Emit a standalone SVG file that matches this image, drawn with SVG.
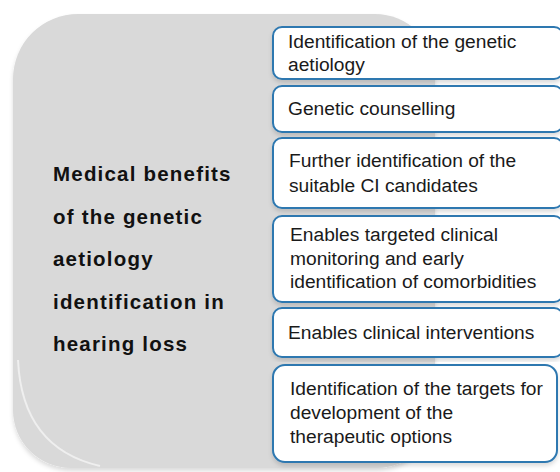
<svg xmlns="http://www.w3.org/2000/svg" width="560" height="472" viewBox="0 0 560 472">
  <style>
    .item rect { fill: #ffffff; stroke: #2e78b0; stroke-width: 2; }
    .item text { font-family: "Liberation Sans", Arial, sans-serif; font-size: 19.2px; fill: #1a1a1a; }
    .title text { font-family: "Liberation Sans", Arial, sans-serif; font-size: 20.5px; font-weight: bold; letter-spacing: 1.2px; fill: #111111; }
  </style>
  <defs>
    <filter id="soft" x="-5%" y="-5%" width="110%" height="115%">
      <feGaussianBlur in="SourceAlpha" stdDeviation="2"/>
      <feOffset dx="0" dy="3" result="b"/>
      <feFlood flood-color="#000000" flood-opacity="0.14"/>
      <feComposite in2="b" operator="in"/>
      <feMerge><feMergeNode/><feMergeNode in="SourceGraphic"/></feMerge>
    </filter>
  </defs>
  <rect width="560" height="472" fill="#ffffff"/>

  <!-- grey panel holding the heading -->
  <g id="panel" class="title">
    <path d="M78 14 H375 A60 60 0 0 1 435 74 V410 A58 58 0 0 1 377 468 H71 A58 58 0 0 1 13 410 V79 A65 65 0 0 1 78 14 Z" fill="#d9d9d9" filter="url(#soft)"/>
    <path d="M18 360 Q22 448 100 466" fill="none" stroke="#f4f4f4" stroke-width="2" opacity="0.8"/>
    <text x="53" y="181">Medical benefits</text>
    <text x="53" y="223.5">of the genetic</text>
    <text x="53" y="266">aetiology</text>
    <text x="53" y="308.5">identification in</text>
    <text x="53" y="351">hearing loss</text>
  </g>

  <!-- benefit boxes -->
  <g id="b1" class="item">
    <rect x="273" y="27" width="290" height="52" rx="9" filter="url(#soft)"/>
    <text x="288" y="48">Identification of the genetic</text>
    <text x="288" y="71">aetiology</text>
  </g>
  <g id="b2" class="item">
    <rect x="273" y="86" width="290" height="46" rx="9" filter="url(#soft)"/>
    <text x="288" y="115">Genetic counselling</text>
  </g>
  <g id="b3" class="item">
    <rect x="273" y="138" width="290" height="70" rx="9" filter="url(#soft)"/>
    <text x="289" y="167">Further identification of the</text>
    <text x="289" y="192">suitable CI candidates</text>
  </g>
  <g id="b4" class="item">
    <rect x="273" y="216" width="290" height="86" rx="9" filter="url(#soft)"/>
    <text x="290" y="241">Enables targeted clinical</text>
    <text x="290" y="265">monitoring and early</text>
    <text x="290" y="288">identification of comorbidities</text>
  </g>
  <g id="b5" class="item">
    <rect x="273" y="308" width="290" height="49" rx="9" filter="url(#soft)"/>
    <text x="288" y="339">Enables clinical interventions</text>
  </g>
  <g id="b6" class="item">
    <rect x="273" y="365" width="284" height="97" rx="12" filter="url(#soft)"/>
    <text x="290" y="395">Identification of the targets for</text>
    <text x="290" y="419">development of the</text>
    <text x="290" y="443">therapeutic options</text>
  </g>
</svg>
